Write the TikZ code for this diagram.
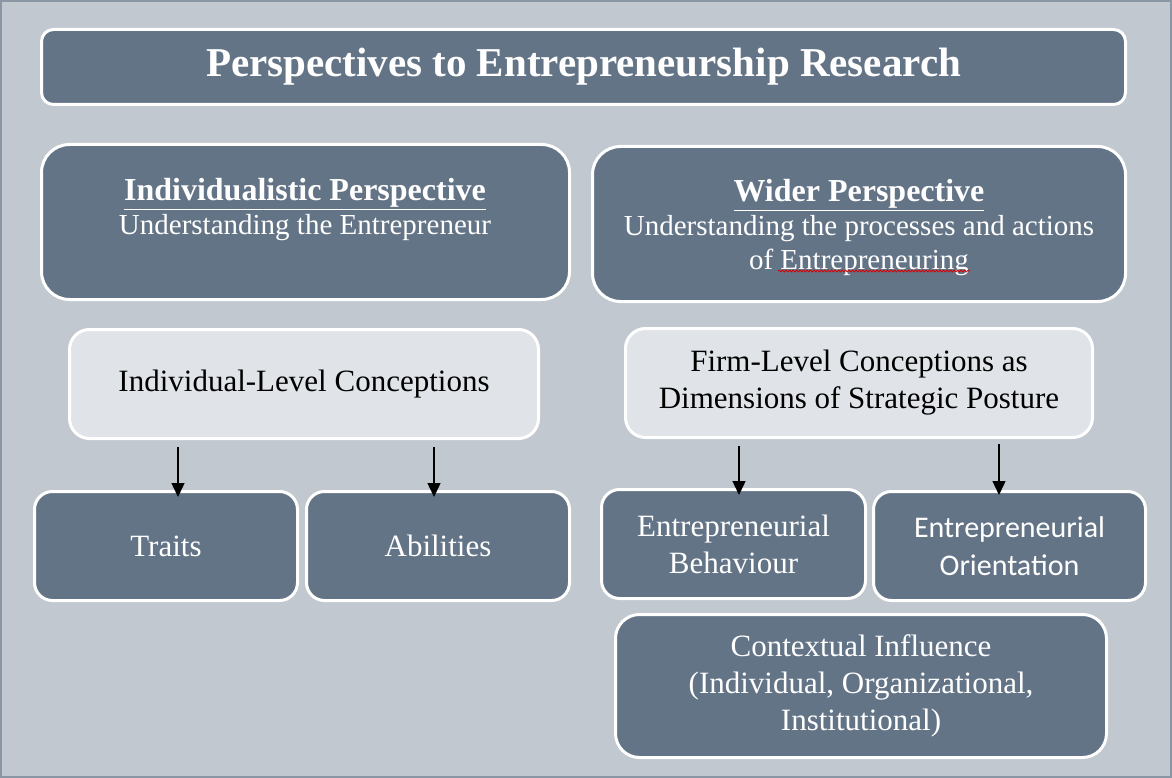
\documentclass[tikz,border=0pt]{standalone}
\usepackage{fontspec}
\setmainfont{Liberation Serif}
\newfontfamily\orientfont{Carlito}
\usetikzlibrary{arrows.meta,decorations.pathmorphing}
\definecolor{paneback}{HTML}{C1C8D0}
\definecolor{slate}{HTML}{647487}
\definecolor{mist}{HTML}{E0E4E8}
\definecolor{paneframe}{HTML}{8A96A3}
\newcommand{\titlesize}{\fontsize{41}{46}\selectfont}
\newcommand{\headsize}{\fontsize{32}{34}\selectfont}
\newcommand{\subsize}{\fontsize{29}{34}\selectfont}
\newcommand{\boxsize}{\fontsize{31}{37}\selectfont}

\begin{document}
\begin{tikzpicture}[x=1pt, y=-1pt,
    darkbox/.style={draw=white, line width=3pt, fill=slate, text=white,
        rounded corners=#1, inner sep=0pt, align=center},
    darkbox/.default=18pt,
    lightbox/.style={draw=white, line width=3pt, fill=mist, text=black,
        rounded corners=20pt, inner sep=0pt, align=center},
    link/.style={-{Triangle[width=13pt,length=14pt]}, line width=1.4pt}]

\useasboundingbox (0,0) rectangle (1172,778);
\draw[paneframe, fill=paneback, line width=2pt] (1,1) rectangle (1171,777);

% title and the two perspectives
\node[darkbox=12pt, minimum width=1084pt, minimum height=75pt, font=\titlesize\bfseries]
    (title) at (583.5,67) {Perspectives to Entrepreneurship Research};
\node[darkbox=28pt, minimum width=528pt, minimum height=155pt] (indiv) at (305.5,222) {};
\node[text=white, align=center, font=\subsize] (indivtext) at (305,210)
    {{\headsize\bfseries\underline{Individualistic Perspective}}\\
     Understanding the Entrepreneur};
\node[darkbox=28pt, minimum width=533pt, minimum height=155pt] (wider) at (859,224) {};
\node[text=white, align=center, font=\subsize] (widertext) at (859,228)
    {{\headsize\bfseries\underline{Wider Perspective}}\\
     Understanding the processes and actions\\
     of Entrepreneuring};
\draw[red!85!black, line width=0.8pt, decorate,
    decoration={snake, amplitude=1pt, segment length=3.5pt}] (778,271) -- (970,271);

% conceptions
\node[lightbox, minimum width=469pt, minimum height=109pt, font=\boxsize]
    (indcon) at (304,384) {Individual-Level Conceptions};
\node[lightbox, minimum width=467pt, minimum height=109pt, font=\boxsize]
    (firmcon) at (859,383) {Firm-Level Conceptions as\\Dimensions of Strategic Posture};

% dimensions
\node[darkbox, minimum width=263pt, minimum height=109pt, font=\boxsize]
    (traits) at (166,546) {Traits};
\node[darkbox, minimum width=263pt, minimum height=109pt, font=\boxsize]
    (abilities) at (438,546) {Abilities};
\node[darkbox, minimum width=264pt, minimum height=109pt, font=\boxsize]
    (behaviour) at (733.5,544) {Entrepreneurial\\Behaviour};
\node[darkbox, minimum width=272pt, minimum height=109pt, font=\orientfont\fontsize{30}{38}\selectfont]
    (orient) at (1009.5,546) {Entrepreneurial\\Orientation};
\node[darkbox=24pt, minimum width=491pt, minimum height=143pt, font=\boxsize]
    (context) at (861,686) {Contextual Influence\\(Individual, Organizational,\\Institutional)};

\draw[link] ([xshift=-126pt,yshift=-7pt]indcon.south) -- ([xshift=-126pt,yshift=-7pt]indcon.south |- traits.north);
\draw[link] ([xshift=130pt,yshift=-7pt]indcon.south) -- ([xshift=130pt,yshift=-7pt]indcon.south |- abilities.north);
\draw[link] ([xshift=-120pt,yshift=-7pt]firmcon.south) -- ([xshift=-120pt,yshift=-7pt]firmcon.south |- behaviour.north);
\draw[link] ([xshift=140pt,yshift=-5pt]firmcon.south) -- ([xshift=140pt,yshift=-5pt]firmcon.south |- orient.north);
\end{tikzpicture}
\end{document}
